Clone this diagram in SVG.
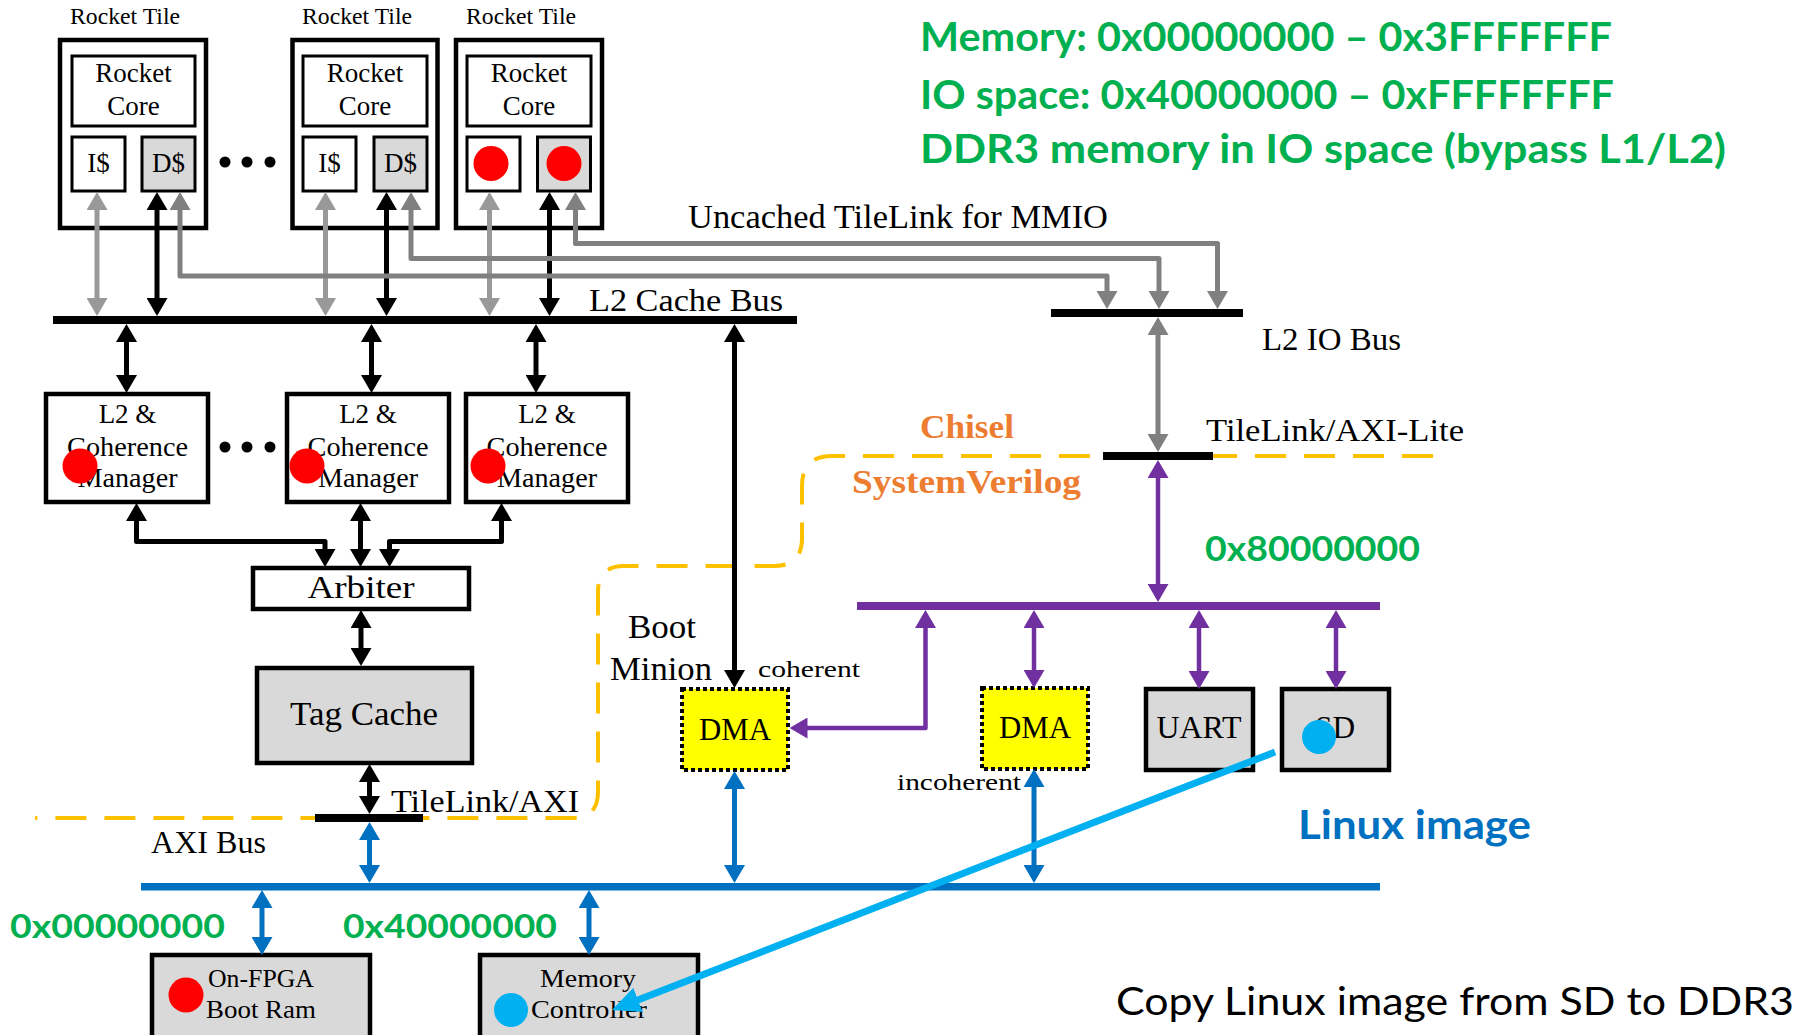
<svg xmlns="http://www.w3.org/2000/svg" width="1812" height="1035" viewBox="0 0 1812 1035">
<style>
.s{font-family:"Liberation Serif","Times New Roman",serif;fill:#000}
.c{font-family:Lato,"Open Sans","Liberation Sans",sans-serif}
.g{fill:#00b050;font-weight:bold}
.box{fill:#fff;stroke:#000;stroke-width:4.5}
.ibox{fill:#fff;stroke:#000;stroke-width:3}
.gbox{fill:#d9d9d9;stroke:#000;stroke-width:4.5}
.dma{fill:#ffff00;stroke:#000;stroke-width:4;stroke-dasharray:4 3}
.k{fill:none;stroke:#000;stroke-width:5;marker-start:url(#aK);marker-end:url(#aK)}
.lg{fill:none;stroke:#999;stroke-width:5;marker-start:url(#aG);marker-end:url(#aG)}
.dg{fill:none;stroke:#808080;stroke-width:5;stroke-linejoin:round;marker-start:url(#aD);marker-end:url(#aD)}
.p{fill:none;stroke:#7030a0;stroke-width:4.5;marker-start:url(#aP);marker-end:url(#aP)}
.b{fill:none;stroke:#0070c0;stroke-width:5;marker-start:url(#aB);marker-end:url(#aB)}
.red{fill:#ff0000}
.cy{fill:#00b0f0}
</style>
<defs>
<marker id="aK" viewBox="0 0 18 21" refX="9" refY="10.5" markerWidth="18" markerHeight="21" markerUnits="userSpaceOnUse" orient="auto-start-reverse"><path d="M0,0 L18,10.5 L0,21 z" fill="#000"/></marker>
<marker id="aG" viewBox="0 0 18 21" refX="9" refY="10.5" markerWidth="18" markerHeight="21" markerUnits="userSpaceOnUse" orient="auto-start-reverse"><path d="M0,0 L18,10.5 L0,21 z" fill="#999"/></marker>
<marker id="aD" viewBox="0 0 18 21" refX="9" refY="10.5" markerWidth="18" markerHeight="21" markerUnits="userSpaceOnUse" orient="auto-start-reverse"><path d="M0,0 L18,10.5 L0,21 z" fill="#808080"/></marker>
<marker id="aP" viewBox="0 0 18 21" refX="9" refY="10.5" markerWidth="18" markerHeight="21" markerUnits="userSpaceOnUse" orient="auto-start-reverse"><path d="M0,0 L18,10.5 L0,21 z" fill="#7030a0"/></marker>
<marker id="aB" viewBox="0 0 18 21" refX="9" refY="10.5" markerWidth="18" markerHeight="21" markerUnits="userSpaceOnUse" orient="auto-start-reverse"><path d="M0,0 L18,10.5 L0,21 z" fill="#0070c0"/></marker>
<marker id="aC" viewBox="0 0 28 26" refX="14" refY="13" markerWidth="28" markerHeight="26" markerUnits="userSpaceOnUse" orient="auto"><path d="M0,0 L28,13 L0,26 z" fill="#00b0f0"/></marker>
</defs>
<rect width="1812" height="1035" fill="#fff"/>

<!-- annotations -->
<g id="annotations">
<text class="c g" x="920" y="51" font-size="41" textLength="692" lengthAdjust="spacingAndGlyphs">Memory: 0x00000000 – 0x3FFFFFFF</text>
<text class="c g" x="920" y="109" font-size="41" textLength="694" lengthAdjust="spacingAndGlyphs">IO space: 0x40000000 – 0xFFFFFFFF</text>
<text class="c g" x="920" y="163" font-size="41" textLength="806" lengthAdjust="spacingAndGlyphs">DDR3 memory in IO space (bypass L1/L2)</text>
<text class="c g" x="1205" y="561" font-size="34" textLength="215" lengthAdjust="spacingAndGlyphs">0x80000000</text>
<text class="c g" x="10" y="938" font-size="33" textLength="215" lengthAdjust="spacingAndGlyphs">0x00000000</text>
<text class="c g" x="343" y="938" font-size="33" textLength="214" lengthAdjust="spacingAndGlyphs">0x40000000</text>
<text class="s" x="920" y="438" font-size="34" font-weight="bold" style="fill:#ed7d31" textLength="94" lengthAdjust="spacingAndGlyphs">Chisel</text>
<text class="s" x="852" y="493" font-size="34" font-weight="bold" style="fill:#ed7d31" textLength="229" lengthAdjust="spacingAndGlyphs">SystemVerilog</text>
<text class="c" x="1298" y="839" font-size="41" font-weight="bold" fill="#0070c0" textLength="233" lengthAdjust="spacingAndGlyphs">Linux image</text>
<text class="c" x="1116" y="1015" font-size="39" fill="#000" textLength="678" lengthAdjust="spacingAndGlyphs">Copy Linux image from SD to DDR3</text>
<text class="s" x="688" y="228" font-size="34" textLength="420" lengthAdjust="spacingAndGlyphs">Uncached TileLink for MMIO</text>
<text class="s" x="589" y="311" font-size="32" textLength="194" lengthAdjust="spacingAndGlyphs">L2 Cache Bus</text>
<text class="s" x="1262" y="350" font-size="32" textLength="139" lengthAdjust="spacingAndGlyphs">L2 IO Bus</text>
<text class="s" x="1206" y="441" font-size="32" textLength="258" lengthAdjust="spacingAndGlyphs">TileLink/AXI-Lite</text>
<text class="s" x="391" y="812" font-size="32" textLength="188" lengthAdjust="spacingAndGlyphs">TileLink/AXI</text>
<text class="s" x="151" y="853" font-size="32" textLength="115" lengthAdjust="spacingAndGlyphs">AXI Bus</text>
<text class="s" x="628" y="638" font-size="33" textLength="68" lengthAdjust="spacingAndGlyphs">Boot</text>
<text class="s" x="610" y="680" font-size="33" textLength="102" lengthAdjust="spacingAndGlyphs">Minion</text>
<text class="s" x="758" y="677" font-size="24" textLength="102" lengthAdjust="spacingAndGlyphs">coherent</text>
<text class="s" x="897" y="790" font-size="24" textLength="124" lengthAdjust="spacingAndGlyphs">incoherent</text>
<!-- dots -->
<circle cx="225" cy="162" r="5.5"/><circle cx="247" cy="162" r="5.5"/><circle cx="270" cy="162" r="5.5"/>
<circle cx="225" cy="447" r="5.5"/><circle cx="247" cy="447" r="5.5"/><circle cx="270" cy="447" r="5.5"/>
<!-- Chisel / SystemVerilog boundary -->
<path d="M1433,456 L832,456 Q802,456 802,486 L802,538 Q802,566 774,566 L624,566 Q598,566 598,592 L598,792 Q598,818 572,818 L35,818" fill="none" stroke="#ffc000" stroke-width="4" stroke-dasharray="31 18"/>
</g>

<!-- buses -->
<g id="buses">
<rect id="l2-cache-bus" x="53" y="316" width="744" height="8" fill="#000"/>
<rect id="l2-io-bus" x="1051" y="309" width="192" height="8" fill="#000"/>
<rect id="tilelink-axilite-bar" x="1103" y="452" width="110" height="8" fill="#000"/>
<rect id="tilelink-axi-bar" x="315" y="814" width="108" height="8" fill="#000"/>
<rect id="periph-bus" x="857" y="602" width="523" height="8" fill="#7030a0"/>
<rect id="axi-bus" x="141" y="883" width="1239" height="7.5" fill="#0070c0"/>
</g>

<!-- Rocket tiles -->
<g id="tile1">
<text class="s" x="70" y="24" font-size="23" textLength="110" lengthAdjust="spacingAndGlyphs">Rocket Tile</text>
<rect class="box" x="60" y="40" width="146" height="188"/>
<rect class="ibox" x="72" y="56" width="123" height="70"/>
<text class="s" x="133.5" y="82" font-size="27" text-anchor="middle">Rocket</text>
<text class="s" x="133.5" y="115" font-size="27" text-anchor="middle">Core</text>
<rect class="ibox" x="72" y="137" width="53" height="54"/>
<text class="s" x="98.5" y="172" font-size="27" text-anchor="middle">I$</text>
<rect class="ibox" x="142" y="137" width="53" height="54" fill="#d9d9d9" style="fill:#d9d9d9"/>
<text class="s" x="168.5" y="172" font-size="27" text-anchor="middle">D$</text>
</g>
<g id="tile2">
<text class="s" x="302" y="24" font-size="23" textLength="110" lengthAdjust="spacingAndGlyphs">Rocket Tile</text>
<rect class="box" x="292.5" y="40" width="145" height="188"/>
<rect class="ibox" x="303" y="56" width="124" height="70"/>
<text class="s" x="365" y="82" font-size="27" text-anchor="middle">Rocket</text>
<text class="s" x="365" y="115" font-size="27" text-anchor="middle">Core</text>
<rect class="ibox" x="303" y="137" width="53" height="54"/>
<text class="s" x="329.5" y="172" font-size="27" text-anchor="middle">I$</text>
<rect class="ibox" x="374" y="137" width="53" height="54" style="fill:#d9d9d9"/>
<text class="s" x="400.5" y="172" font-size="27" text-anchor="middle">D$</text>
</g>
<g id="tile3">
<text class="s" x="466" y="24" font-size="23" textLength="110" lengthAdjust="spacingAndGlyphs">Rocket Tile</text>
<rect class="box" x="456" y="40" width="146" height="188"/>
<rect class="ibox" x="467" y="56" width="124" height="70"/>
<text class="s" x="529" y="82" font-size="27" text-anchor="middle">Rocket</text>
<text class="s" x="529" y="115" font-size="27" text-anchor="middle">Core</text>
<rect class="ibox" x="467" y="137" width="53" height="54"/>
<circle class="red" cx="491" cy="163.5" r="17.5"/>
<rect class="ibox" x="537.5" y="137" width="53" height="54" style="fill:#d9d9d9"/>
<circle class="red" cx="564" cy="163.5" r="17.5"/>
</g>

<!-- L2 & Coherence managers -->
<g id="mgr1">
<rect class="box" x="46" y="394" width="162" height="108"/>
<text class="s" x="127.5" y="423" font-size="27" text-anchor="middle">L2 &amp;</text>
<text class="s" x="127.5" y="456" font-size="27" text-anchor="middle" textLength="121" lengthAdjust="spacingAndGlyphs">Coherence</text>
<text class="s" x="127.5" y="487" font-size="27" text-anchor="middle" textLength="100" lengthAdjust="spacingAndGlyphs">Manager</text>
<circle class="red" cx="80" cy="466" r="17.5"/>
</g>
<g id="mgr2">
<rect class="box" x="287" y="394" width="162" height="108"/>
<text class="s" x="368" y="423" font-size="27" text-anchor="middle">L2 &amp;</text>
<text class="s" x="368" y="456" font-size="27" text-anchor="middle" textLength="121" lengthAdjust="spacingAndGlyphs">Coherence</text>
<text class="s" x="368" y="487" font-size="27" text-anchor="middle" textLength="100" lengthAdjust="spacingAndGlyphs">Manager</text>
<circle class="red" cx="307" cy="466" r="17.5"/>
</g>
<g id="mgr3">
<rect class="box" x="466" y="394" width="162" height="108"/>
<text class="s" x="547" y="423" font-size="27" text-anchor="middle">L2 &amp;</text>
<text class="s" x="547" y="456" font-size="27" text-anchor="middle" textLength="121" lengthAdjust="spacingAndGlyphs">Coherence</text>
<text class="s" x="547" y="487" font-size="27" text-anchor="middle" textLength="100" lengthAdjust="spacingAndGlyphs">Manager</text>
<circle class="red" cx="488" cy="466" r="17.5"/>
</g>

<g id="arbiter">
<rect class="box" x="253" y="568" width="216" height="41"/>
<text class="s" x="361" y="598" font-size="32" text-anchor="middle" textLength="107" lengthAdjust="spacingAndGlyphs">Arbiter</text>
</g>
<g id="tag-cache">
<rect class="gbox" x="257" y="668" width="215" height="95"/>
<text class="s" x="364" y="725" font-size="34" text-anchor="middle" textLength="148" lengthAdjust="spacingAndGlyphs">Tag Cache</text>
</g>

<g id="dma1">
<rect class="dma" x="682" y="689" width="106" height="81"/>
<text class="s" x="735" y="740" font-size="32" text-anchor="middle" textLength="72" lengthAdjust="spacingAndGlyphs">DMA</text>
</g>
<g id="dma2">
<rect class="dma" x="982" y="688" width="106" height="81"/>
<text class="s" x="1035" y="738" font-size="32" text-anchor="middle" textLength="72" lengthAdjust="spacingAndGlyphs">DMA</text>
</g>
<g id="uart">
<rect class="gbox" x="1146" y="689" width="107" height="81" stroke-width="5"/>
<text class="s" x="1199" y="738" font-size="31" text-anchor="middle" textLength="85" lengthAdjust="spacingAndGlyphs">UART</text>
</g>
<g id="sd">
<rect class="gbox" x="1282" y="689" width="107" height="81" stroke-width="5"/>
<text class="s" x="1335" y="738" font-size="31" text-anchor="middle" textLength="40" lengthAdjust="spacingAndGlyphs">SD</text>
<circle class="cy" cx="1319" cy="737" r="17"/>
</g>
<g id="boot-ram">
<rect class="gbox" x="152" y="955" width="218" height="90"/>
<text class="s" x="261" y="987" font-size="26" text-anchor="middle" textLength="106" lengthAdjust="spacingAndGlyphs">On-FPGA</text>
<text class="s" x="261" y="1018" font-size="26" text-anchor="middle" textLength="110" lengthAdjust="spacingAndGlyphs">Boot Ram</text>
<circle class="red" cx="186" cy="995" r="17.5"/>
</g>
<g id="memory-controller">
<rect class="gbox" x="480" y="955" width="218" height="90"/>
<text class="s" x="588" y="987" font-size="26" text-anchor="middle" textLength="96" lengthAdjust="spacingAndGlyphs">Memory</text>
<text class="s" x="589" y="1018" font-size="26" text-anchor="middle" textLength="116" lengthAdjust="spacingAndGlyphs">Controller</text>
<circle class="cy" cx="511" cy="1010" r="17"/>
</g>

<!-- connectors -->
<g id="connectors">
<!-- tile to L2 cache bus -->
<line class="lg" x1="97" y1="201" x2="97" y2="307"/>
<line class="k" x1="157" y1="201" x2="157" y2="307"/>
<line class="lg" x1="325.5" y1="201" x2="325.5" y2="307"/>
<line class="k" x1="386.5" y1="201" x2="386.5" y2="307"/>
<line class="lg" x1="489.5" y1="201" x2="489.5" y2="307"/>
<line class="k" x1="549.5" y1="201" x2="549.5" y2="307"/>
<!-- MMIO uncached -->
<path class="dg" d="M180,201 L180,276 L1107,276 L1107,300"/>
<path class="dg" d="M411,201 L411,258.5 L1159,258.5 L1159,300"/>
<path class="dg" d="M575.5,201 L575.5,243.5 L1217.5,243.5 L1217.5,300"/>
<!-- L2 IO bus to TileLink/AXI-Lite -->
<line class="dg" x1="1158" y1="326" x2="1158" y2="443"/>
<!-- L2 cache bus to managers -->
<line class="k" x1="126.5" y1="333" x2="126.5" y2="384"/>
<line class="k" x1="371.5" y1="333" x2="371.5" y2="384"/>
<line class="k" x1="536" y1="333" x2="536" y2="384"/>
<!-- L2 cache bus to DMA -->
<line class="k" x1="734.5" y1="333" x2="734.5" y2="679"/>
<!-- managers to arbiter -->
<path class="k" d="M136.5,512 L136.5,541.5 L325,541.5 L325,558" stroke-linejoin="round"/>
<line class="k" x1="360.5" y1="512" x2="360.5" y2="558"/>
<path class="k" d="M501.5,512 L501.5,541.5 L389.5,541.5 L389.5,558" stroke-linejoin="round"/>
<!-- arbiter to tag cache -->
<line class="k" x1="361" y1="619" x2="361" y2="657"/>
<!-- tag cache to TileLink/AXI bar -->
<line class="k" x1="369.5" y1="773" x2="369.5" y2="805"/>
<!-- AXI -->
<line class="b" x1="369.5" y1="831" x2="369.5" y2="874"/>
<line class="b" x1="262" y1="899" x2="262" y2="946"/>
<line class="b" x1="589" y1="899" x2="589" y2="946"/>
<line class="b" x1="734.5" y1="780" x2="734.5" y2="874"/>
<line class="b" x1="1034" y1="778" x2="1034" y2="874"/>
<!-- purple IO -->
<line class="p" x1="1158" y1="469" x2="1158" y2="593"/>
<path class="p" d="M925.5,619 L925.5,728 L798.5,728" stroke-linejoin="round"/>
<line class="p" x1="1034" y1="619" x2="1034" y2="679"/>
<line class="p" x1="1199" y1="619" x2="1199" y2="680"/>
<line class="p" x1="1336" y1="619" x2="1336" y2="680"/>
<!-- copy Linux image -->
<line x1="1275" y1="752" x2="625" y2="1005" stroke="#00b0f0" stroke-width="7" marker-end="url(#aC)"/>
</g>
</svg>
